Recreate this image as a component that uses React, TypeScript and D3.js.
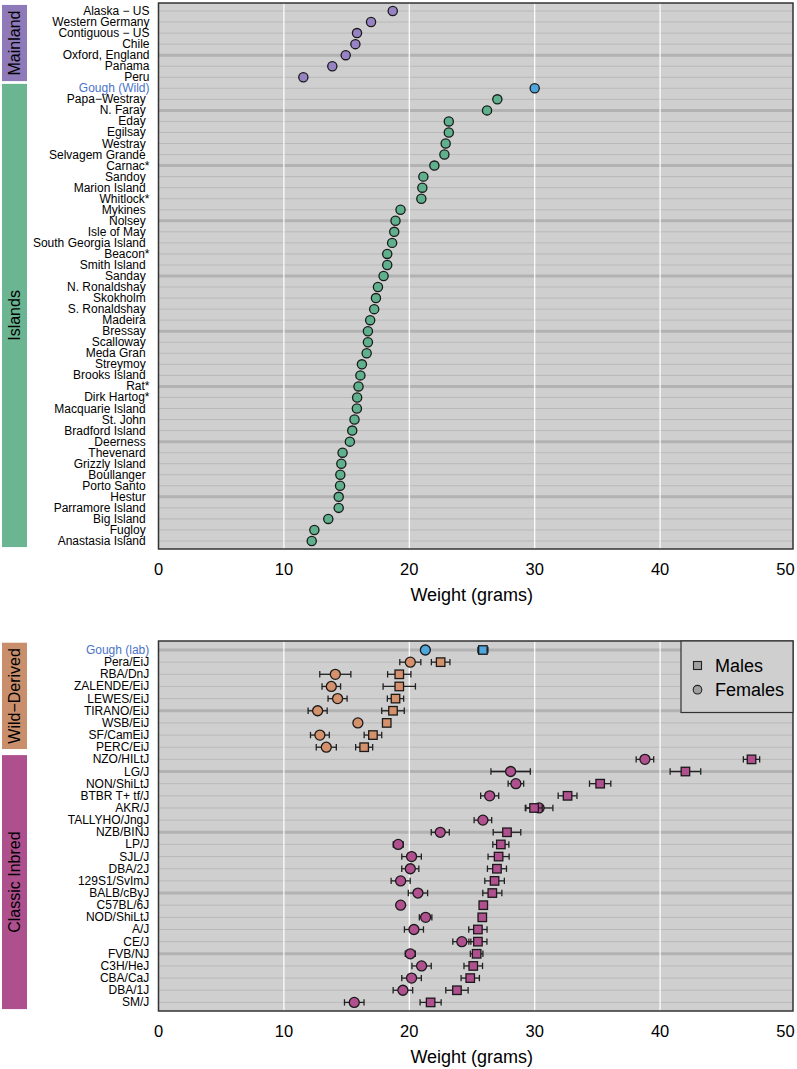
import React from "react";
import * as d3 from "d3";

const mainlandNames = ["Alaska − US", "Western Germany", "Contiguous − US", "Chile", "Oxford, England", "Panama", "Peru"];
const mainlandWeights = [18.68, 16.95, 15.83, 15.7, 14.93, 13.86, 11.55];
const goughWildName = "Gough (Wild)";
const goughWildWeight = 30.0;
const islandNames = ["Papa−Westray", "N. Faray", "Eday", "Egilsay", "Westray", "Selvagem Grande", "Carnac*", "Sandoy", "Marion Island", "Whitlock*", "Mykines", "Nolsey", "Isle of May", "South Georgia Island", "Beacon*", "Smith Island", "Sanday", "N. Ronaldshay", "Skokholm", "S. Ronaldshay", "Madeira", "Bressay", "Scalloway", "Meda Gran", "Streymoy", "Brooks Island", "Rat*", "Dirk Hartog*", "Macquarie Island", "St. John", "Bradford Island", "Deerness", "Thevenard", "Grizzly Island", "Boullanger", "Porto Santo", "Hestur", "Parramore Island", "Big Island", "Fugloy", "Anastasia Island"];
const islandWeights = [27.02, 26.2, 23.15, 23.15, 22.9, 22.8, 22.0, 21.12, 21.04, 20.96, 19.3, 18.9, 18.8, 18.63, 18.24, 18.24, 17.95, 17.5, 17.34, 17.2, 16.88, 16.7, 16.7, 16.6, 16.22, 16.1, 15.95, 15.84, 15.82, 15.63, 15.45, 15.26, 14.68, 14.58, 14.5, 14.48, 14.37, 14.37, 13.54, 12.43, 12.22];

const strainNames = ["Gough (lab)", "Pera/EiJ", "RBA/DnJ", "ZALENDE/EiJ", "LEWES/EiJ", "TIRANO/EiJ", "WSB/EiJ", "SF/CamEiJ", "PERC/EiJ", "NZO/HILtJ", "LG/J", "NON/ShiLtJ", "BTBR T+ tf/J", "AKR/J", "TALLYHO/JngJ", "NZB/BINJ", "LP/J", "SJL/J", "DBA/2J", "129S1/SvImJ", "BALB/cByJ", "C57BL/6J", "NOD/ShiLtJ", "A/J", "CE/J", "FVB/NJ", "C3H/HeJ", "CBA/CaJ", "DBA/1J", "SM/J"];
const strainGroups = ["gough", "wild", "wild", "wild", "wild", "wild", "wild", "wild", "wild", "classic", "classic", "classic", "classic", "classic", "classic", "classic", "classic", "classic", "classic", "classic", "classic", "classic", "classic", "classic", "classic", "classic", "classic", "classic", "classic", "classic"];
const femaleMeans = [21.28, 20.08, 14.1, 13.78, 14.28, 12.69, 15.9, 12.87, 13.38, 38.79, 28.08, 28.5, 26.41, 30.35, 25.87, 22.47, 19.12, 20.18, 20.08, 19.31, 20.69, 19.31, 21.3, 20.37, 24.19, 20.08, 20.98, 20.18, 19.49, 15.61];
const femaleErr = [0, 0.84, 1.24, 0.74, 0.76, 0.76, 0, 0.75, 0.8, 0.7, 1.57, 0.62, 0.72, 1.1, 0.7, 0.72, 0.4, 0.78, 0.68, 0.76, 0.77, 0.25, 0.5, 0.76, 0.72, 0.4, 0.77, 0.78, 0.78, 0.78];
const maleMeans = [25.87, 22.5, 19.2, 19.2, 18.9, 18.7, 18.2, 17.1, 16.4, 47.29, 42.02, 35.22, 32.62, 29.95, null, 27.79, 27.3, 27.12, 26.99, 26.8, 26.62, 25.9, 25.82, 25.47, 25.47, 25.37, 25.1, 24.86, 23.8, 21.7];
const maleErr = [0.4, 0.74, 0.93, 1.29, 0.65, 0.9, 0, 0.7, 0.68, 0.65, 1.22, 0.85, 0.75, 0.65, 0, 1.1, 0.64, 0.84, 0.76, 0.78, 0.76, 0.2, 0.3, 0.73, 0.72, 0.5, 0.74, 0.73, 0.89, 0.84];

const xTicks = [0, 10, 20, 30, 40, 50];

const COL = {
  mainland: "#9783c4",
  mainlandBar: "#8e7ab8",
  island: "#5fb08c",
  islandBar: "#6bb592",
  gough: "#4fa6dc",
  goughText: "#4a74c8",
  wild: "#d4916b",
  wildBar: "#c98f6c",
  classic: "#b0508f",
  classicBar: "#ae4f8e",
  bg: "#cfcfcf",
  thin: "#b9b9b9",
  thick: "#b2b2b2",
};

const FONT = "Liberation Sans, Arial, Helvetica, sans-serif";
const PL = 158.5;
const PR = 793;
const x = d3.scaleLinear().domain([0, 50]).range([PL, PL + 50 * 12.54]);

function Panel({ top, bottom, y, n }: { top: number; bottom: number; y: d3.ScaleLinear<number, number>; n: number }) {
  const rows = d3.range(n);
  return (
    <g>
      <rect x={PL} y={top} width={PR - PL} height={bottom - top} fill={COL.bg} />
      {rows.map((i) => {
        const thick = (n - i) % 5 === 0;
        return (
          <line key={i} x1={PL} x2={PR} y1={y(i)} y2={y(i)} stroke={thick ? COL.thick : COL.thin} strokeWidth={thick ? 3 : 1} />
        );
      })}
      {xTicks.filter((t) => t > 0 && t < 50).map((t) => (
        <line key={t} x1={x(t)} x2={x(t)} y1={top} y2={bottom} stroke="#ffffff" strokeWidth={1.2} />
      ))}
    </g>
  );
}

function Axis({ bottom }: { bottom: number }) {
  return (
    <g fontFamily={FONT} fill="#000">
      {xTicks.map((t) => (
        <text key={t} x={x(t)} y={bottom + 26} textAnchor="middle" fontSize={16.5}>{t}</text>
      ))}
      <text x={(PL + PR) / 2 - 4} y={bottom + 52} textAnchor="middle" fontSize={18}>Weight (grams)</text>
    </g>
  );
}

function SideBar({ y0, y1, color, label }: { y0: number; y1: number; color: string; label: string }) {
  const cy = (y0 + y1) / 2;
  return (
    <g>
      <rect x={2} y={y0} width={25} height={y1 - y0} fill={color} />
      <text x={15} y={cy} transform={`rotate(-90, 15, ${cy})`} textAnchor="middle" dominantBaseline="central" fontFamily={FONT} fontSize={16} fill="#000">{label}</text>
    </g>
  );
}

function ErrBar({ v, e, yy }: { v: number; e: number; yy: number }) {
  if (!e) return null;
  const a = x(v - e), b = x(v + e);
  return (
    <g stroke="#222" strokeWidth={1.3}>
      <line x1={a} x2={b} y1={yy} y2={yy} />
      <line x1={a} x2={a} y1={yy - 3.2} y2={yy + 3.2} />
      <line x1={b} x2={b} y1={yy - 3.2} y2={yy + 3.2} />
    </g>
  );
}

export default function App() {
  // top panel
  const topNames = [...mainlandNames, goughWildName, ...islandNames];
  const topVals = [...mainlandWeights, goughWildWeight, ...islandWeights];
  const topGroup = topNames.map((_, i) => (i < mainlandNames.length ? "mainland" : i === mainlandNames.length ? "gough" : "island"));
  const nTop = topNames.length;
  const yTop = d3.scaleLinear().domain([0, nTop - 1]).range([11, 541]);
  const stepTop = yTop(1) - yTop(0);
  const topT = 3, topB = 549;

  const nBot = strainNames.length;
  const yBot = d3.scaleLinear().domain([0, nBot - 1]).range([650, 1002.4]);
  const stepBot = yBot(1) - yBot(0);
  const botT = 641, botB = 1011;

  const nMain = mainlandNames.length;
  const nWild = strainGroups.filter((g) => g !== "classic").length;

  const colorFor = (g: string) => (g === "mainland" ? COL.mainland : g === "island" ? COL.island : g === "gough" ? COL.gough : g === "wild" ? COL.wild : COL.classic);

  const sq = 8.5;

  return (
    <svg width={797} height={1069} style={{ position: "absolute", left: 0, top: 0, background: "#fff" }}>
      {/* top panel */}
      <Panel top={topT} bottom={topB} y={yTop} n={nTop} />
      {topVals.map((v, i) => (
        <circle key={i} cx={x(v)} cy={yTop(i)} r={4.6} fill={colorFor(topGroup[i])} stroke="#1a1a1a" strokeWidth={1.3} />
      ))}
      <rect x={PL} y={topT} width={PR - PL} height={topB - topT} fill="none" stroke="#333" strokeWidth={1.5} />
      <g fontFamily={FONT} fontSize={12}>
        {topNames.map((nm, i) => {
          const g = topGroup[i];
          const star = nm.endsWith("*");
          const xe = g === "island" && !star ? 145.7 : 149.5;
          return (
            <text key={i} x={xe} y={yTop(i)} textAnchor="end" dominantBaseline="central" fill={g === "gough" ? COL.goughText : "#000"}>{nm}</text>
          );
        })}
      </g>
      <SideBar y0={yTop(0) - 0.55 * stepTop} y1={yTop(nMain - 1) + 0.35 * stepTop} color={COL.mainlandBar} label="Mainland" />
      <SideBar y0={yTop(nMain) - 0.4 * stepTop} y1={yTop(nTop - 1) + 0.55 * stepTop} color={COL.islandBar} label="Islands" />
      <Axis bottom={topB} />

      {/* bottom panel */}
      <Panel top={botT} bottom={botB} y={yBot} n={nBot} />
      {strainNames.map((_, i) => {
        const c = colorFor(strainGroups[i]);
        const yy = yBot(i);
        const mv = maleMeans[i];
        return (
          <g key={i}>
            <ErrBar v={femaleMeans[i]} e={femaleErr[i]} yy={yy} />
            <circle cx={x(femaleMeans[i])} cy={yy} r={5} fill={c} stroke="#1a1a1a" strokeWidth={1.3} />
            {mv != null && <ErrBar v={mv} e={maleErr[i]} yy={yy} />}
            {mv != null && <rect x={x(mv) - sq / 2} y={yy - sq / 2} width={sq} height={sq} fill={c} stroke="#1a1a1a" strokeWidth={1.3} />}
          </g>
        );
      })}
      <rect x={PL} y={botT} width={PR - PL} height={botB - botT} fill="none" stroke="#333" strokeWidth={1.5} />
      {/* legend */}
      <g fontFamily={FONT}>
        <rect x={681} y={botT} width={PR - 681} height={71.5} fill={COL.bg} stroke="#333" strokeWidth={1.2} />
        <rect x={697.5 - 4} y={665.5 - 4} width={8} height={8} fill="#a0a0a0" stroke="#222" strokeWidth={1.1} />
        <text x={715} y={665.5} dominantBaseline="central" fontSize={18}>Males</text>
        <circle cx={697.5} cy={689.7} r={4.3} fill="#a0a0a0" stroke="#222" strokeWidth={1.1} />
        <text x={715} y={689.7} dominantBaseline="central" fontSize={18}>Females</text>
      </g>
      <g fontFamily={FONT} fontSize={12}>
        {strainNames.map((nm, i) => (
          <text key={i} x={149.3} y={yBot(i)} textAnchor="end" dominantBaseline="central" fill={strainGroups[i] === "gough" ? COL.goughText : "#000"}>{nm}</text>
        ))}
      </g>
      <SideBar y0={yBot(0) - 0.6 * stepBot} y1={yBot(nWild - 1) + 0.15 * stepBot} color={COL.wildBar} label="Wild−Derived" />
      <SideBar y0={yBot(nWild) - 0.35 * stepBot} y1={yBot(nBot - 1) + 0.55 * stepBot} color={COL.classicBar} label="Classic Inbred" />
      <Axis bottom={botB} />
    </svg>
  );
}
